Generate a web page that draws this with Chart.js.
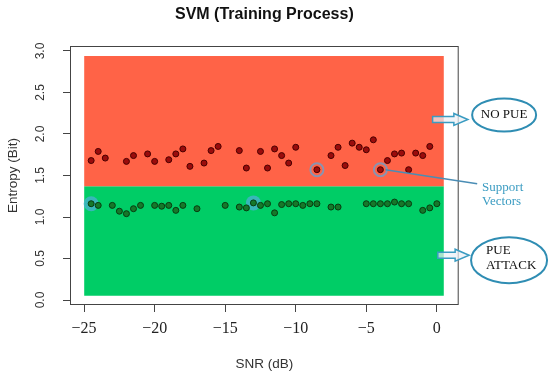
<!DOCTYPE html>
<html>
<head>
<meta charset="utf-8">
<script src="https://cdn.jsdelivr.net/npm/chart.js@4.4.1/dist/chart.umd.min.js"></script>
<style>
  html, body { margin: 0; padding: 0; background: #fff; }
</style>
</head>
<body>
<canvas id="svmChart" width="550" height="376"></canvas>
<script>
// training samples
const redX = [-24.5, -24, -23.5, -22, -21.5, -20.5, -20, -19, -18.5, -18, -17.5, -16.5, -16, -15.5,
  -14, -13.5, -12.5, -12, -11.5, -11, -10.5, -10, -8.5, -7.5, -7, -6.5, -6, -5.5, -5, -4.5, -4,
  -3.5, -3, -2.5, -2, -1.5, -1, -0.5];
const redY = [1.68, 1.79, 1.71, 1.67, 1.74, 1.76, 1.67, 1.69, 1.76, 1.82, 1.61, 1.65, 1.80, 1.85,
  1.80, 1.59, 1.79, 1.59, 1.82, 1.74, 1.65, 1.84, 1.57, 1.74, 1.84, 1.62, 1.89, 1.84, 1.81, 1.93, 1.57,
  1.68, 1.76, 1.77, 1.57, 1.77, 1.74, 1.85];
const greenX = [-24.5, -24, -23, -22.5, -22, -21.5, -21, -20, -19.5, -19, -18.5, -18, -17, -15,
  -14, -13.5, -13, -12.5, -12, -11.5, -11, -10.5, -10, -9.5, -9, -8.5, -7.5, -7, -5, -4.5, -4,
  -3.5, -3, -2.5, -2, -1, -0.5, 0];
const greenY = [1.16, 1.14, 1.14, 1.07, 1.04, 1.10, 1.14, 1.14, 1.13, 1.14, 1.08, 1.14, 1.10, 1.14,
  1.12, 1.11, 1.17, 1.14, 1.16, 1.05, 1.15, 1.16, 1.16, 1.14, 1.16, 1.16, 1.12, 1.12, 1.16, 1.16, 1.16,
  1.16, 1.18, 1.16, 1.16, 1.08, 1.11, 1.16];

// support vectors
const svRedX = [-8.5, -4];
const svRedY = [1.57, 1.57];
const svGreenX = [-24.5, -13];
const svGreenY = [1.16, 1.17];

// decision regions
const regionX = [-25, 0.5];
const noPueBand = [1.37, 2.94];
const pueBand = [0.05, 1.37];

const xTicks = [-25, -20, -15, -10, -5, 0];
const yTicks = [0, 0.5, 1, 1.5, 2, 2.5, 3];

const pts = (xs, ys) => xs.map((v, i) => ({x: v, y: ys[i]}));

const AXIS = '#444';
const NOTE = '#3b9cc2';

function blockArrow(ctx, x0, x1, yc) {
  const head = 14, sh = 3, hh = 6;
  ctx.beginPath();
  ctx.moveTo(x0, yc - sh);
  ctx.lineTo(x1 - head, yc - sh);
  ctx.lineTo(x1 - head, yc - hh);
  ctx.lineTo(x1, yc);
  ctx.lineTo(x1 - head, yc + hh);
  ctx.lineTo(x1 - head, yc + sh);
  ctx.lineTo(x0, yc + sh);
  ctx.closePath();
  ctx.fillStyle = 'rgba(235,240,245,0.7)';
  ctx.fill();
  ctx.strokeStyle = NOTE;
  ctx.lineWidth = 1.5;
  ctx.stroke();
}

function ellipse(ctx, cx, cy, rx, ry) {
  ctx.beginPath();
  ctx.ellipse(cx, cy, rx, ry, 0, 0, Math.PI * 2);
  ctx.fillStyle = '#fff';
  ctx.fill();
  ctx.strokeStyle = '#2f8db3';
  ctx.lineWidth = 2;
  ctx.stroke();
}

const notes = {
  id: 'notes',
  afterDraw(chart) {
    const {ctx, chartArea: a, scales: {x, y}} = chart;
    ctx.save();

    // box round the plot
    ctx.strokeStyle = AXIS;
    ctx.lineWidth = 1;
    ctx.strokeRect(a.left + 0.5, a.top + 0.5, a.right - a.left - 1, a.bottom - a.top - 1);

    // y tick labels, turned like R does
    ctx.fillStyle = '#333';
    ctx.font = '12px "Liberation Sans", Arial, sans-serif';
    ctx.textAlign = 'center';
    ctx.textBaseline = 'middle';
    yTicks.forEach(v => {
      ctx.save();
      ctx.translate(41, y.getPixelForValue(v));
      ctx.rotate(-Math.PI / 2);
      ctx.fillText(v.toFixed(1), 0, 0);
      ctx.restore();
    });

    // support vector callout
    ctx.strokeStyle = '#4a8db5';
    ctx.lineWidth = 1.5;
    ctx.beginPath();
    ctx.moveTo(x.getPixelForValue(svRedX[1]) + 5, y.getPixelForValue(svRedY[1]));
    ctx.lineTo(x.getPixelForValue(2.86), y.getPixelForValue(1.40));
    ctx.stroke();
    ctx.fillStyle = NOTE;
    ctx.font = '13px "Liberation Serif", "Times New Roman", serif';
    ctx.textAlign = 'left';
    ctx.fillText('Support', x.getPixelForValue(3.21), y.getPixelForValue(1.36));
    ctx.fillText('Vectors', x.getPixelForValue(3.21), y.getPixelForValue(1.18));

    // NO PUE
    blockArrow(ctx, x.getPixelForValue(-0.3), x.getPixelForValue(2.2), y.getPixelForValue(2.175));
    ellipse(ctx, x.getPixelForValue(4.77), y.getPixelForValue(2.23), 32, 16.5);
    ctx.fillStyle = '#111';
    ctx.textAlign = 'center';
    ctx.fillText('NO PUE', x.getPixelForValue(4.77), y.getPixelForValue(2.23));

    // PUE ATTACK
    blockArrow(ctx, x.getPixelForValue(0.07), x.getPixelForValue(2.29), y.getPixelForValue(0.54));
    ellipse(ctx, x.getPixelForValue(5.12), y.getPixelForValue(0.48), 38, 23);
    ctx.fillStyle = '#111';
    ctx.textAlign = 'left';
    ctx.fillText('PUE', x.getPixelForValue(3.49), y.getPixelForValue(0.60));
    ctx.fillText('ATTACK', x.getPixelForValue(3.49), y.getPixelForValue(0.42));

    ctx.restore();
  }
};

const ctx = document.getElementById('svmChart').getContext('2d');
const chart = new Chart(ctx, {
  type: 'scatter',
  data: {
    datasets: [
      {
        label: 'NO PUE',
        type: 'line',
        data: pts(regionX, [noPueBand[1], noPueBand[1]]),
        fill: {target: {value: noPueBand[0]}},
        backgroundColor: '#ff6347',
        borderWidth: 0,
        pointRadius: 0,
        order: 10
      },
      {
        label: 'PUE ATTACK',
        type: 'line',
        data: pts(regionX, [pueBand[1], pueBand[1]]),
        fill: {target: {value: pueBand[0]}},
        backgroundColor: '#00cd66',
        borderWidth: 0,
        pointRadius: 0,
        order: 10
      },
      {
        label: 'SV red',
        data: pts(svRedX, svRedY),
        pointRadius: 6.5,
        backgroundColor: 'rgba(0,0,0,0)',
        borderColor: '#8a93b0',
        borderWidth: 2,
        order: 5
      },
      {
        label: 'SV green',
        data: pts(svGreenX, svGreenY),
        pointRadius: 7.5,
        backgroundColor: 'rgba(70,178,205,0.8)',
        borderWidth: 0,
        order: 5
      },
      {
        label: 'no pue',
        data: pts(redX, redY),
        pointRadius: 3,
        backgroundColor: '#9a0c0c',
        borderColor: '#4a0000',
        borderWidth: 1,
        order: 1
      },
      {
        label: 'pue attack',
        data: pts(greenX, greenY),
        pointRadius: 3,
        backgroundColor: '#16782a',
        borderColor: '#073d10',
        borderWidth: 1,
        order: 1
      }
    ]
  },
  options: {
    responsive: false,
    animation: false,
    layout: { padding: { left: 0, right: 91.3, top: 0, bottom: 0 } },
    plugins: {
      legend: { display: false },
      tooltip: { enabled: false },
      title: {
        display: true,
        fullSize: false,
        text: 'SVM (Training Process)',
        color: '#111',
        font: { family: '"Liberation Sans", Arial, sans-serif', size: 16, weight: 'bold' },
        padding: { top: 5.4, bottom: 21.4 }
      }
    },
    scales: {
      x: {
        type: 'linear',
        min: -26,
        max: 1.55,
        afterBuildTicks: s => { s.ticks = xTicks.map(v => ({value: v})); },
        afterFit: s => { s.height = 71; },
        border: { display: false },
        grid: { drawOnChartArea: false, drawTicks: true, tickLength: 7, color: AXIS },
        ticks: {
          padding: 7,
          color: '#222',
          font: { family: '"Liberation Serif", "Times New Roman", serif', size: 16 },
          callback: v => v < 0 ? '\u2212' + Math.abs(v) : String(v)
        },
        title: {
          display: true,
          text: 'SNR (dB)',
          color: '#333',
          font: { family: '"Liberation Sans", Arial, sans-serif', size: 13.5 },
          padding: { top: 0, bottom: 4 }
        }
      },
      y: {
        type: 'linear',
        min: -0.06,
        max: 3.06,
        afterBuildTicks: s => { s.ticks = yTicks.map(v => ({value: v})); },
        afterFit: s => { s.width = 70; },
        border: { display: false },
        grid: { drawOnChartArea: false, drawTicks: true, tickLength: 7, color: AXIS },
        ticks: { display: false },
        title: {
          display: true,
          text: 'Entropy (Bit)',
          color: '#333',
          font: { family: '"Liberation Sans", Arial, sans-serif', size: 13.5 },
          padding: { top: 5, bottom: 0 }
        }
      }
    }
  },
  plugins: [notes]
});
</script>
</body>
</html>
